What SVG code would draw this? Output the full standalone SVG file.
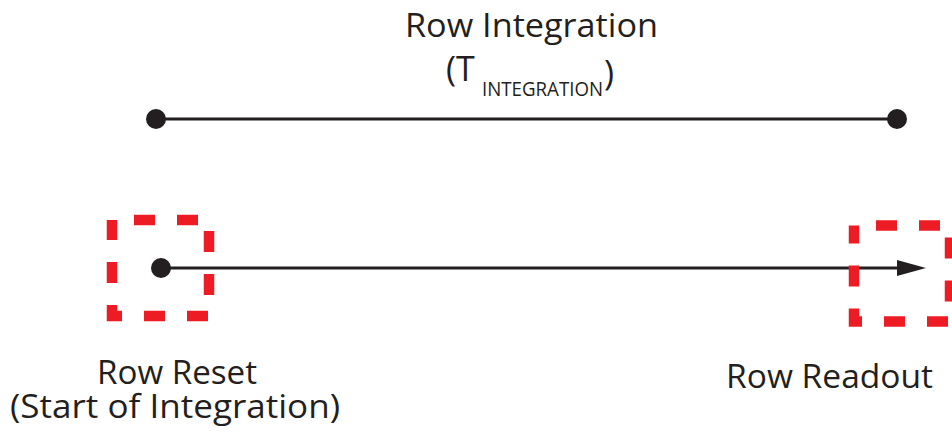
<svg xmlns="http://www.w3.org/2000/svg" width="952" height="436" viewBox="0 0 952 436">
<style>
.t{font-family:"Open Sans","Liberation Sans",sans-serif;font-size:33px;fill:#231f20;text-anchor:middle}
.p{font-family:"Open Sans","Liberation Sans",sans-serif;font-size:34px;fill:#231f20}
.s{font-size:20px}
.box{fill:none;stroke:#ed1c24;stroke-width:10.5;stroke-dasharray:21 22;stroke-dashoffset:21}
.ln{stroke:#231f20;stroke-width:3;fill:none}
.dot{fill:#231f20}
</style>
<defs>
<marker id="ah" markerUnits="userSpaceOnUse" markerWidth="30" markerHeight="16" refX="0" refY="8" orient="auto">
<path d="M0,0 L29,8 L0,16 z" fill="#231f20"/>
</marker>
</defs>
<g id="title">
<text class="t" x="531.5" y="37" textLength="253" lengthAdjust="spacingAndGlyphs">Row Integration</text>
<text class="p" x="446" y="81">(T<tspan class="s" x="482" y="96" textLength="121" lengthAdjust="spacingAndGlyphs">INTEGRATION</tspan><tspan x="604" y="85">)</tspan></text>
</g>
<g id="connectors">
<line class="ln" x1="156" y1="119" x2="897" y2="119"/>
<line class="ln" x1="161" y1="268" x2="897" y2="268" marker-end="url(#ah)"/>
</g>
<g id="integration-start"><circle class="dot" cx="156" cy="119" r="10"/></g>
<g id="integration-end"><circle class="dot" cx="897" cy="119" r="10"/></g>
<g id="row-reset">
<rect class="box" x="112" y="220" width="97" height="96"/>
<circle class="dot" cx="161" cy="268" r="10"/>
<text class="t"><tspan x="177" y="384" textLength="160" lengthAdjust="spacingAndGlyphs">Row Reset</tspan><tspan x="175" y="418" textLength="330" lengthAdjust="spacingAndGlyphs">(Start of Integration)</tspan></text>
</g>
<g id="row-readout">
<rect class="box" x="854" y="225.5" width="96" height="96"/>
<text class="t" x="829.5" y="388" textLength="207" lengthAdjust="spacingAndGlyphs">Row Readout</text>
</g>
</svg>
